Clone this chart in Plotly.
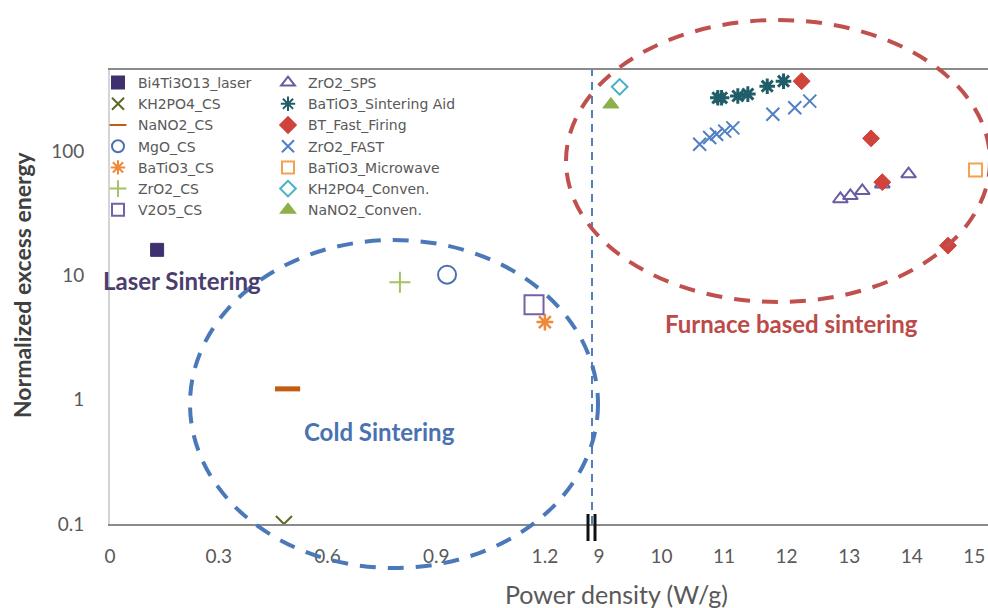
import plotly.graph_objects as go

# ---------------- data ----------------
bi4_x, bi4_y = [0.13], [16]
kh2po4_cs_x, kh2po4_cs_y = [0.48], [0.1]
nano2_cs_x, nano2_cs_y = [0.49], [1.22]
mgo_cs_x, mgo_cs_y = [0.93], [10.1]
batio3_cs_x, batio3_cs_y = [1.2], [4.2]
zro2_cs_x, zro2_cs_y = [0.80], [8.8]
v2o5_cs_x, v2o5_cs_y = [1.17], [5.8]

zro2_sps_x = [12.86, 13.02, 13.21, 13.53, 13.95]
zro2_sps_y = [41, 43.5, 47.7, 54, 65]
batio3_aid_x = [10.90, 10.96, 11.22, 11.38, 11.69, 11.95]
batio3_aid_y = [267, 267, 276, 286, 331, 363]
bt_fast_x = [12.24, 13.35, 13.53, 14.58]
bt_fast_y = [363, 126, 56, 17.3]
zro2_fast_x = [10.61, 10.77, 10.88, 11.01, 11.14, 11.78, 12.13, 12.37]
zro2_fast_y = [113, 128, 136, 144, 153, 197, 222, 251]
batio3_mw_x, batio3_mw_y = [15.02], [70]
kh2po4_conv_x, kh2po4_conv_y = [9.33], [327]
nano2_conv_x, nano2_conv_y = [9.19], [236]

x1_ticks = [0, 0.3, 0.6, 0.9, 1.2]
x1_ticktext = ["0", "0.3", "0.6", "0.9", "1.2"]
x2_ticks = [9, 10, 11, 12, 13, 14, 15]
y_ticks = [0.1, 1, 10, 100]
y_ticktext = ["0.1", "1", "10", "100"]

# ---------------- figure geometry ----------------
W, H = 988, 608
ML, MR, MT, MB = 110, 0, 70, 84
PW, PH = W - ML - MR, H - MT - MB
BREAK = (592 - ML) / PW


def px(xp):
    return (xp - ML) / PW


def py(yp):
    return (H - MB - yp) / PH


FONT = "Lato, 'Open Sans', sans-serif"
fig = go.Figure()


def add(name, x, y, axis, legend, symbol, color, size, lw=2):
    marker = dict(symbol=symbol, size=size, color=color,
                  line=dict(color=color, width=lw))
    fig.add_trace(go.Scatter(x=x, y=y, name=name, mode="markers", marker=marker,
                             xaxis=axis, yaxis="y", legend=legend))


add("Bi4Ti3O13_laser", bi4_x, bi4_y, "x", "legend", "square", "#3f3170", 13, 1)
add("KH2PO4_CS", kh2po4_cs_x, kh2po4_cs_y, "x", "legend", "x-thin-open", "#5b6a24", 16, 2)
add("NaNO2_CS", nano2_cs_x, nano2_cs_y, "x", "legend", "line-ew-open", "#c55a11", 18, 5)
add("MgO_CS", mgo_cs_x, mgo_cs_y, "x", "legend", "circle-open", "#4a72b0", 18, 2)
add("BaTiO3_CS", batio3_cs_x, batio3_cs_y, "x", "legend", "asterisk-open", "#f0883a", 14, 2.5)
add("ZrO2_CS", zro2_cs_x, zro2_cs_y, "x", "legend", "cross-thin-open", "#a5c264", 15, 2)
add("V2O5_CS", v2o5_cs_x, v2o5_cs_y, "x", "legend", "square-open", "#7460a6", 19, 2)

add("ZrO2_SPS", zro2_sps_x, zro2_sps_y, "x2", "legend2", "triangle-up-open", "#6b5ba3", 13, 2)
add("BaTiO3_Sintering Aid", batio3_aid_x, batio3_aid_y, "x2", "legend2", "asterisk-open", "#1f5e69", 13, 3)
add("BT_Fast_Firing", bt_fast_x, bt_fast_y, "x2", "legend2", "diamond", "#d0433b", 13, 1)
add("ZrO2_FAST", zro2_fast_x, zro2_fast_y, "x2", "legend2", "x-thin-open", "#4f7fc4", 13, 2)
add("BaTiO3_Microwave", batio3_mw_x, batio3_mw_y, "x2", "legend2", "square-open", "#f3a24e", 13, 2)
add("KH2PO4_Conven.", kh2po4_conv_x, kh2po4_conv_y, "x2", "legend2", "diamond-open", "#45b0c8", 12, 2)
add("NaNO2_Conven.", nano2_conv_x, nano2_conv_y, "x2", "legend2", "triangle-up", "#8db04a", 14, 1)

axis_common = dict(showgrid=False, zeroline=False, automargin=False,
                   showline=True, linecolor="#8a8a8a", linewidth=2, mirror=True,
                   ticks="outside", ticklen=14, tickcolor="rgba(0,0,0,0)",
                   tickfont=dict(family=FONT, size=19, color="#595959"))

shapes = [
    dict(type="line", xref="paper", yref="paper", x0=BREAK, x1=BREAK, y0=0, y1=1,
         line=dict(color="#4f81bd", width=2, dash="8px,6px")),
    dict(type="line", xref="paper", yref="paper", x0=px(588), x1=px(588), y0=py(514), y1=py(541),
         line=dict(color="#111111", width=3)),
    dict(type="line", xref="paper", yref="paper", x0=px(595), x1=px(595), y0=py(514), y1=py(541),
         line=dict(color="#111111", width=3)),
    dict(type="circle", xref="paper", yref="paper", x0=px(190), x1=px(598), y0=py(568), y1=py(240),
         line=dict(color="#4a78b8", width=4, dash="16px,12px")),
    dict(type="circle", xref="paper", yref="paper", x0=px(566), x1=px(990), y0=py(302), y1=py(20),
         line=dict(color="#c0504d", width=4, dash="16px,12px")),
]

annotations = [
    dict(text="<b>Laser Sintering</b>", xref="paper", yref="paper", x=px(182), y=py(280),
         xanchor="center", yanchor="middle", showarrow=False,
         font=dict(family=FONT, size=24, color="#4b3d6e")),
    dict(text="<b>Cold Sintering</b>", xref="paper", yref="paper", x=px(379), y=py(431),
         xanchor="center", yanchor="middle", showarrow=False,
         font=dict(family=FONT, size=24, color="#4a72b0")),
    dict(text="<b>Furnace based sintering</b>", xref="paper", yref="paper", x=px(791), y=py(323),
         xanchor="center", yanchor="middle", showarrow=False,
         font=dict(family=FONT, size=24, color="#bb4a48")),
    dict(text="<b>Normalized excess energy</b>", xref="paper", yref="paper", x=px(22), y=py(285),
         xanchor="center", yanchor="middle", textangle=-90, showarrow=False,
         font=dict(family=FONT, size=23, color="#404040")),
    dict(text="Power density (W/g)", xref="paper", yref="paper", x=px(616), y=py(594),
         xanchor="center", yanchor="middle", showarrow=False,
         font=dict(family=FONT, size=25, color="#595959")),
]

legend_common = dict(font=dict(family="DejaVu Sans", size=14, color="#595959"),
                     bgcolor="rgba(0,0,0,0)", borderwidth=0, tracegroupgap=0,
                     itemsizing="constant", xanchor="left", yanchor="top")

fig.update_layout(
    width=W, height=H, template="none",
    margin=dict(l=ML, r=MR, t=MT, b=MB),
    paper_bgcolor="white", plot_bgcolor="white",
    font=dict(family=FONT),
    xaxis=dict(axis_common, domain=[0, BREAK], range=[0, 1.33], tickvals=x1_ticks,
               ticktext=x1_ticktext, anchor="y"),
    xaxis2=dict(axis_common, domain=[BREAK, 1], range=[8.888, 15.22], tickvals=x2_ticks,
                anchor="y"),
    yaxis=dict(type="log", range=[-1, 2.65], tickvals=y_ticks, ticktext=y_ticktext,
               showgrid=False, zeroline=False, automargin=False,
               showline=True, linecolor="#d4d4d4", linewidth=2,
               ticks="outside", ticklen=20, tickcolor="rgba(0,0,0,0)",
               tickfont=dict(family=FONT, size=19, color="#595959"), anchor="x"),
    legend=dict(legend_common, x=px(98), y=py(67)),
    legend2=dict(legend_common, x=px(268), y=py(67)),
    shapes=shapes, annotations=annotations,
    showlegend=True,
)

fig.write_html("out.html", config={"displayModeBar": False},
               post_script="document.body.style.margin='0';document.body.style.overflow='hidden';")
